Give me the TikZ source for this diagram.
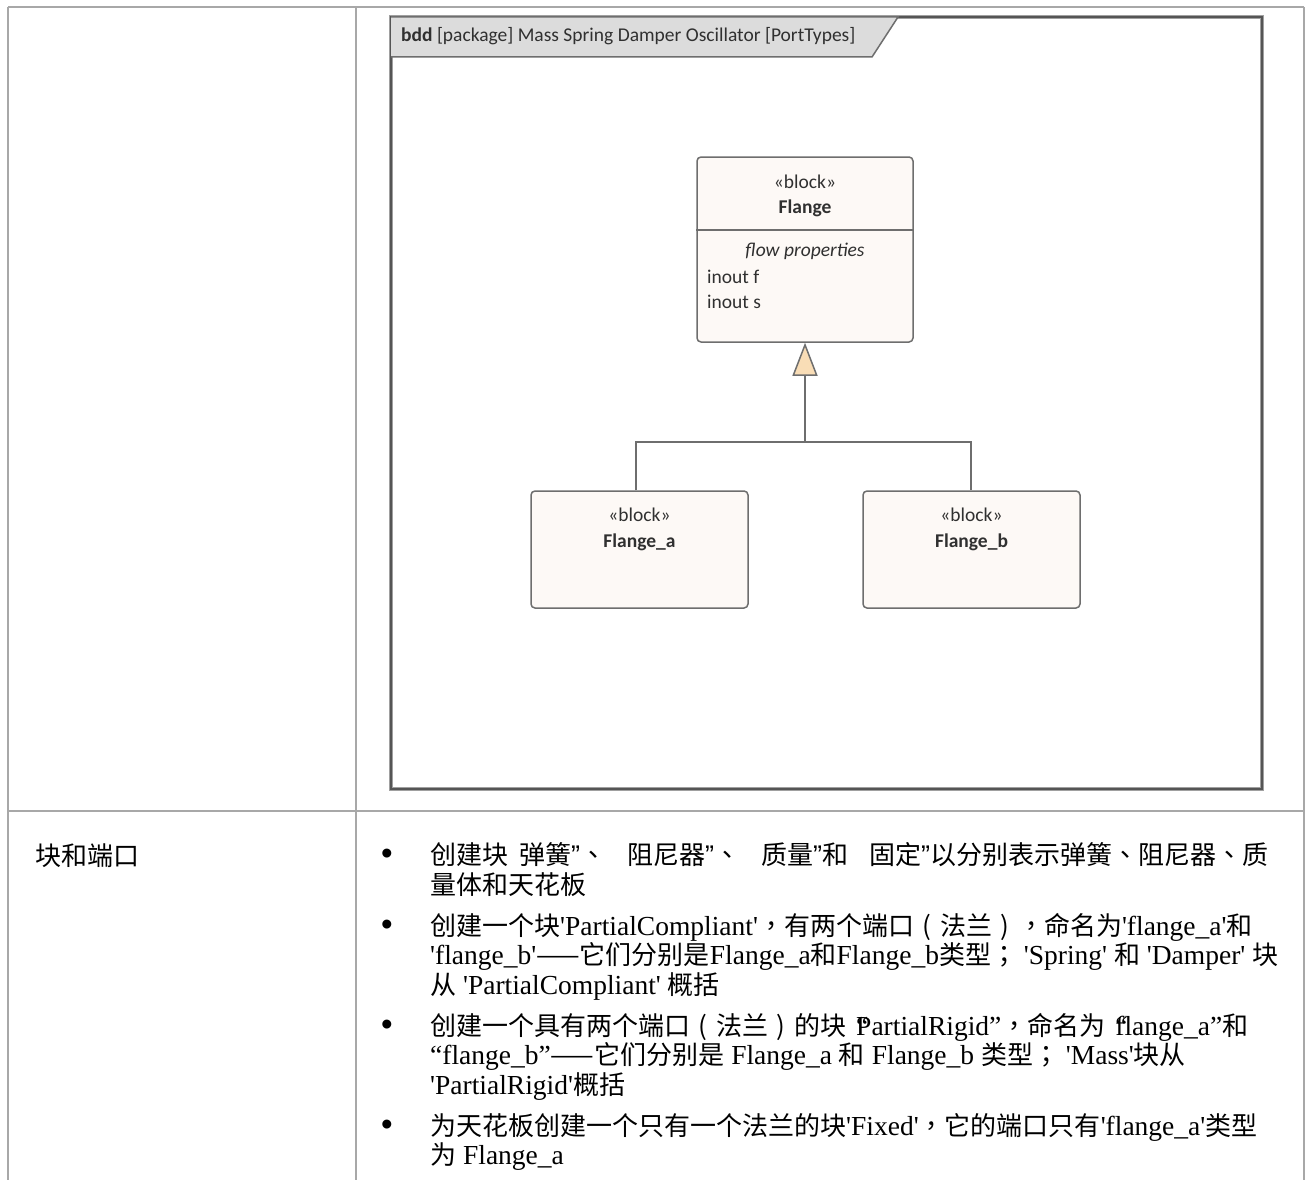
\documentclass[tikz,border=0pt]{standalone}
\usepackage{fontspec}
\setmainfont{Liberation Serif}
\newfontfamily\zhfont{Noto Sans CJK SC}
\newfontfamily\zhpfont{Noto Sans CJK TC}
\newfontfamily\calfont{Carlito}
\newfontfamily\arialfont{Liberation Sans}
\usetikzlibrary{arrows.meta}
\newcommand\zh[1]{{\zhfont\fontsize{26}{30}\selectfont #1}}
\newcommand\zp[1]{{\zhpfont\fontsize{26}{30}\selectfont #1}}
\newcommand\sq{\textquotesingle}
\newcommand\dq{{\arialfont\fontsize{27}{30}\selectfont ”}}
\newcommand\pl{\makebox[26pt][c]{\zh{(}}}
\newcommand\pr{\makebox[26pt][c]{\zh{)}}}
\definecolor{tablegray}{HTML}{A8A8A8}
\definecolor{framegray}{HTML}{555555}
\definecolor{framehalo}{HTML}{A0A0A0}
\definecolor{tabfill}{HTML}{DCDCDC}
\definecolor{blockfill}{HTML}{FDF9F6}
\definecolor{blockdraw}{HTML}{6E6E6E}
\definecolor{genfill}{HTML}{F9DDB6}
\definecolor{dtextcol}{HTML}{303030}
\tikzset{
  tableline/.style={draw=tablegray, line width=1.5pt},
  blockbox/.style={draw=blockdraw, fill=blockfill, line width=1.5pt, rounded corners=4pt, inner sep=0pt},
  blockline/.style={draw=blockdraw, line width=1.5pt},
  conn/.style={draw=blockdraw, line width=1.5pt},
  dtext/.style={font=\calfont\fontsize{19.5}{23}\selectfont, text=dtextcol, inner sep=0pt},
  btext/.style={font=\fontsize{27.5}{30}\selectfont, text=black, inner sep=0pt, anchor=base west},
  bul/.style={font=\arialfont\fontsize{33}{30}\selectfont, inner sep=0pt, anchor=base},
}
\begin{document}
\begin{tikzpicture}[x=1pt,y=-1pt]
\useasboundingbox (0,0) rectangle (1305,1180);
\fill[white] (0,0) rectangle (1305,1180);
% table
\coordinate (tl) at (8,7);
\coordinate (tm) at (356,7);
\coordinate (tr) at (1304,7);
\coordinate (bl) at (8,1180);
\coordinate (bm) at (356,1180);
\coordinate (br) at (1304,1180);
\coordinate (ml) at (8,811);
\coordinate (mr) at (1304,811);
\draw[tableline] (tl) -- (tr);
\draw[tableline] (tl) -- (bl);
\draw[tableline] (tm) -- (bm);
\draw[tableline] (tr) -- (br);
\draw[tableline] (ml) -- (mr);
% frame
\draw[draw=framehalo, line width=4.5pt] (391,17) rectangle (1262,789);
\draw[draw=framegray, line width=2.5pt] (391,17) rectangle (1262,789);
\draw[draw=blockdraw, fill=tabfill, line width=1.5pt] (391,17) -- (898,17) -- (872,57) -- (391,57);
\node[dtext, anchor=base west] (hdr) at (401,42) {\textbf{bdd} [package] Mass Spring Damper Oscillator [PortTypes]};
% blocks
\node[blockbox, minimum width=216pt, minimum height=185pt] (flange) at (805,249.5) {};
\coordinate (dv) at (0,230);
\draw[blockline] (flange.west |- dv) -- (flange.east |- dv);
\node[dtext, anchor=base] (fst) at (805,188) {«block»};
\node[dtext, anchor=base] (fnm) at (805,213) {\textbf{Flange}};
\node[dtext, anchor=base] (fcp) at (805,256) {\textit{flow properties}};
\node[dtext, anchor=base west] (fp1) at (707,283) {inout f};
\node[dtext, anchor=base west] (fp2) at (707,308) {inout s};

\node[blockbox, minimum width=217pt, minimum height=117pt] (flangea) at (639.5,549.5) {};
\node[dtext, anchor=base] (ast) at (639.5,521) {«block»};
\node[dtext, anchor=base] (anm) at (639.5,547) {\textbf{Flange\_a}};

\node[blockbox, minimum width=217pt, minimum height=117pt] (flangeb) at (971.5,549.5) {};
\node[dtext, anchor=base] (bst) at (971.5,521) {«block»};
\node[dtext, anchor=base] (bnm) at (971.5,547) {\textbf{Flange\_b}};

\coordinate (jl) at (636,442);
\coordinate (jr) at (971,442);
\coordinate (j) at (805,442);
\draw[conn] (jl |- flangea.north) -- (jl) -- (jr) -- (jr |- flangeb.north);
\draw[conn, -{Triangle[length=33pt,width=25pt,fill=genfill,line join=miter]}] (j) -- (flange.south);

% lower row
\node[anchor=base west, inner sep=0pt] (lbl) at (35,865) {\zh{块和端口}};

\node[bul] (b1) at (387,864) {•};
\node[btext] (l1) at (430,864) {\zh{创建块}\hspace{11pt}\zh{弹簧}\dq\zp{、}\hspace{21pt}\zh{阻尼器}\dq\zp{、}\hspace{21pt}\zh{质量}\dq\zh{和}\hspace{21pt}\zh{固定}\dq\zh{以分别表示弹簧}\zp{、}\zh{阻尼器}\zp{、}\zh{质}};
\node[btext] (l2) at (430,894) {\zh{量体和天花板}};

\node[bul] (b2) at (387,935) {•};
\node[btext] (l3) at (430,935) {\zh{创建一个块}\sq PartialCompliant\sq\zp{，}\zh{有两个端口}\pl\zh{法兰}\pr\zp{，}\zh{命名为}\sq flange\_a\sq\zh{和}};
\node[btext] (l4) at (430,964) {\sq flange\_b\sq\zh{——它们分别是}Flange\_a\zh{和}Flange\_b\zh{类型}\zp{；} \sq Spring\sq{} \zh{和} \sq Damper\sq{} \zh{块}};
\node[btext] (l5) at (430,994) {\zh{从} \sq PartialCompliant\sq{} \zh{概括}};

\node[bul] (b3) at (387,1035) {•};
\node[btext] (l6) at (430,1035) {\zh{创建一个具有两个端口}\pl\zh{法兰}\pr\zh{的块}\hspace{10pt}\rlap{“}PartialRigid”\zp{，}\zh{命名为}\hspace{10pt}\rlap{“}flange\_a”\zh{和}};
\node[btext] (l7) at (430,1064) {“flange\_b”\zh{——它们分别是} Flange\_a \zh{和} Flange\_b \zh{类型}\zp{；} \sq Mass\sq\zh{块从}};
\node[btext] (l8) at (430,1094) {\sq PartialRigid\sq\zh{概括}};

\node[bul] (b4) at (387,1135) {•};
\node[btext] (l9) at (430,1135) {\zh{为天花板创建一个只有一个法兰的块}\sq Fixed\sq\zp{，}\zh{它的端口只有}\sq flange\_a\sq\zh{类型}};
\node[btext] (l10) at (430,1164) {\zh{为} Flange\_a};
\end{tikzpicture}
\end{document}
